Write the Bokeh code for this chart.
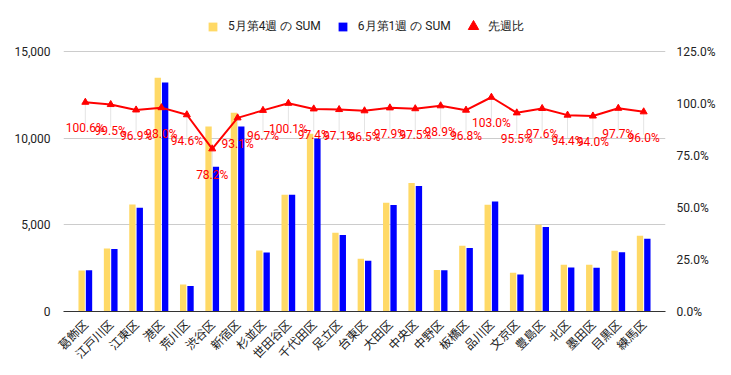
import math
from bokeh.plotting import figure
from bokeh.models import (FactorRange, Range1d, LinearAxis, FixedTicker, NumeralTickFormatter,
                          PrintfTickFormatter, ColumnDataSource, Legend, LegendItem)
from bokeh.transform import dodge
from bokeh.core.properties import value
from bokeh.embed import file_html
from bokeh.resources import INLINE

wards = ["葛飾区", "江戸川区", "江東区", "港区", "荒川区", "渋谷区", "新宿区", "杉並区",
         "世田谷区", "千代田区", "足立区", "台東区", "大田区", "中央区", "中野区", "板橋区",
         "品川区", "文京区", "豊島区", "北区", "墨田区", "目黒区", "練馬区"]
may_week4 = [2370, 3630, 6170, 13480, 1560, 10680, 11460, 3520, 6730, 10250, 4540, 3040,
             6270, 7420, 2400, 3790, 6160, 2230, 5000, 2690, 2690, 3500, 4370]
jun_week1 = [2385, 3612, 5980, 13210, 1475, 8350, 10670, 3405, 6737, 9985, 4408, 2934,
             6140, 7240, 2375, 3668, 6345, 2130, 4880, 2540, 2530, 3420, 4195]
ratio_pct = [100.6, 99.5, 96.9, 98.0, 94.6, 78.2, 93.1, 96.7, 100.1, 97.4, 97.1, 96.5,
             97.9, 97.5, 98.9, 96.8, 103.0, 95.5, 97.6, 94.4, 94.0, 97.7, 96.0]
left_ticks = [0, 5000, 10000, 15000]
right_ticks = [0, 25, 50, 75, 100, 125]
series_names = ["5月第4週 の SUM", "6月第1週 の SUM", "先週比"]

src = ColumnDataSource(dict(
    ward=wards, may=may_week4, jun=jun_week1, ratio=ratio_pct,
    label=[f"{r:.1f}%" for r in ratio_pct],
    stem=[r - 11 for r in ratio_pct],
))

# frame reaches the top of the figure so the legend can sit inside it;
# the value axes keep 15,000 / 125% at 260 px above the baseline
FRAME_H = 311
AXIS_H = 260
left_end = left_ticks[-1] * FRAME_H / AXIS_H
right_end = right_ticks[-1] * FRAME_H / AXIS_H

p = figure(x_range=FactorRange(*wards, range_padding=0.36, range_padding_units="absolute"),
           y_range=Range1d(0, left_end),
           frame_width=602, frame_height=FRAME_H,
           min_border_left=63, min_border_right=64, min_border_top=0, min_border_bottom=62,
           output_backend="svg", toolbar_location=None)
p.outline_line_color = None
p.background_fill_color = "white"
p.border_fill_color = "white"

p.extra_y_ranges = {"pct": Range1d(0, right_end)}

# left axis
ly = p.yaxis[0]
ly.ticker = FixedTicker(ticks=left_ticks)
ly.formatter = NumeralTickFormatter(format="0,0")
ly.axis_line_color = None
ly.major_tick_line_color = None
ly.minor_tick_line_color = None
ly.major_label_text_font = "Roboto"
ly.major_label_text_font_size = "12px"
ly.major_label_text_color = "#222222"
ly.major_label_standoff = 7

p.ygrid.ticker = FixedTicker(ticks=left_ticks)
p.ygrid.grid_line_color = "#cccccc"
p.xgrid.grid_line_color = None

# right axis
ry = LinearAxis(y_range_name="pct", ticker=FixedTicker(ticks=right_ticks),
                formatter=PrintfTickFormatter(format="%.1f%%"))
ry.axis_line_color = None
ry.major_tick_line_color = None
ry.minor_tick_line_color = None
ry.major_label_text_font = "Roboto"
ry.major_label_text_font_size = "12px"
ry.major_label_text_color = "#222222"
ry.major_label_standoff = 5
p.add_layout(ry, "right")

# x axis
xa = p.xaxis[0]
xa.axis_line_color = "#333333"
xa.major_tick_line_color = None
xa.minor_tick_line_color = None
xa.major_label_orientation = math.pi / 4
xa.major_label_text_font = "Noto Sans CJK JP"
xa.major_label_text_font_size = "12px"
xa.major_label_text_color = "#222222"
xa.major_label_standoff = 4

b1 = p.vbar(x=dodge("ward", -0.145, range=p.x_range), top="may", width=0.25,
            source=src, fill_color="#ffd966", line_color=None)
b2 = p.vbar(x=dodge("ward", 0.145, range=p.x_range), top="jun", width=0.25,
            source=src, fill_color="#0000ff", line_color=None)

p.segment(x0="ward", y0="ratio", x1="ward", y1="stem", source=src, y_range_name="pct",
          line_color="#e4e4e4", line_width=1)
p.line(x="ward", y="ratio", source=src, y_range_name="pct", line_color="#ff0000", line_width=2)
tri = p.scatter(x="ward", y="ratio", source=src, y_range_name="pct", marker="triangle",
                size=7, fill_color="#ff0000", line_color="#ff0000")
p.text(x="ward", y="ratio", text="label", source=src, y_range_name="pct", y_offset=26,
       text_align="center", text_baseline="middle", text_font=value("Roboto"),
       text_font_size="12px", text_color="#ff0000")

leg_a = Legend(items=[LegendItem(label=series_names[0], renderers=[b1]),
                      LegendItem(label=series_names[1], renderers=[b2])],
               orientation="horizontal", location=(144, 275),
               glyph_width=11, glyph_height=11, label_standoff=10, spacing=16,
               padding=0, margin=0, label_height=20,
               border_line_color=None, background_fill_alpha=0,
               label_text_font="Roboto", label_text_font_size="12px",
               label_text_color="#222222")
leg_b = Legend(items=[LegendItem(label=series_names[2], renderers=[tri])],
               orientation="horizontal", location=(397, 272),
               glyph_width=26, glyph_height=26, label_standoff=2, spacing=0,
               padding=0, margin=0, label_height=20,
               border_line_color=None, background_fill_alpha=0,
               label_text_font="Roboto", label_text_font_size="12px",
               label_text_color="#222222")
p.add_layout(leg_a, "center")
p.add_layout(leg_b, "center")

open("out.html", "w").write(file_html(p, INLINE))
